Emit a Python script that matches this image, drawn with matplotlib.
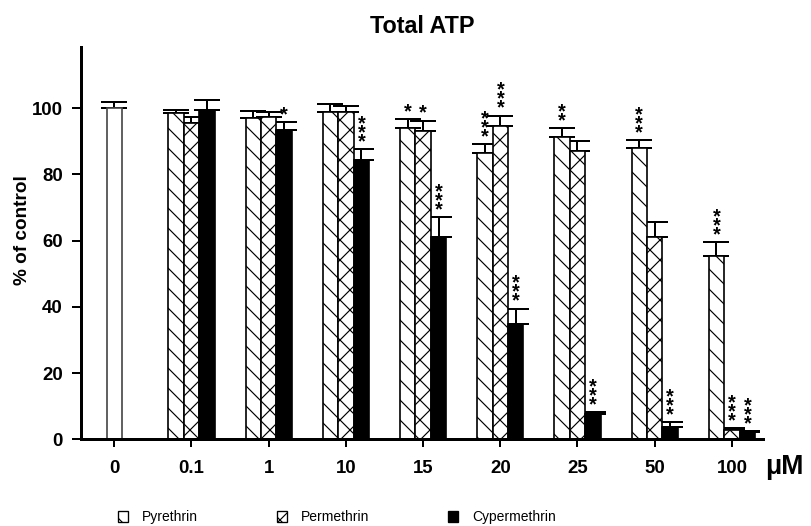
import numpy as np
import matplotlib
matplotlib.use('Agg')
import matplotlib.pyplot as plt
from matplotlib.patches import Patch

plt.rcParams['font.family'] = ['Liberation Sans', 'DejaVu Sans']
plt.rcParams['hatch.linewidth'] = 0.7

labels = ['0', '0.1', '1', '10', '15', '20', '25', '50', '100']
control = 100.0
control_err = 2.0

pyr = [98.5, 97.0, 98.8, 94.1, 86.4, 91.4, 87.9, 55.5]
pyr_err = [0.9, 2.1, 2.5, 2.7, 2.9, 2.7, 2.5, 4.2]
perm = [95.7, 97.5, 99.0, 93.1, 94.7, 87.1, 61.1, 2.8]
perm_err = [1.6, 1.5, 1.7, 3.2, 3.1, 3.1, 4.6, 0.5]
cyp = [99.5, 93.4, 84.4, 61.2, 34.7, 7.6, 3.8, 2.1]
cyp_err = [2.9, 2.5, 3.2, 5.9, 4.8, 0.7, 1.3, 0.3]

pyr_stars = [0, 0, 0, 1, 3, 2, 3, 3]
perm_stars = [0, 0, 0, 1, 3, 0, 0, 3]
cyp_stars = [0, 1, 3, 3, 3, 3, 3, 3]

dpi = 120
fig = plt.figure(figsize=(811 / dpi, 526 / dpi), dpi=dpi)
ax = fig.add_axes([81 / 811, 1 - 439.3 / 526, (763 - 81) / 811, (439.3 - 46.7) / 526])

w = 0.2
groups = np.arange(1, len(labels))

ax.bar(0, control, width=w, color='white', edgecolor='#444444', linewidth=1.0, zorder=2)
ax.errorbar(0, control, yerr=[[0], [control_err]], fmt='none', ecolor='black',
            elinewidth=1.2, capsize=7.8, capthick=1.2, zorder=1)

series = [
    (pyr, pyr_err, pyr_stars, -w, dict(color='white', hatch='\\\\')),
    (perm, perm_err, perm_stars, 0, dict(color='white', hatch='xx')),
    (cyp, cyp_err, cyp_stars, w, dict(color='black')),
]

for vals, errs, stars, off, style in series:
    xs = groups + off
    ax.bar(xs, vals, width=w, edgecolor='black', linewidth=1.0, zorder=2, **style)
    ax.errorbar(xs, vals, yerr=[np.zeros(len(vals)), errs], fmt='none', ecolor='black',
                elinewidth=1.2, capsize=7.8, capthick=1.2, zorder=1)
    # stacked significance stars above each error bar
    for x, v, e, n in zip(xs, vals, errs, stars):
        for k in range(n):
            ax.annotate('*', xy=(x, v + e), xytext=(0, 1.0 + 5.4 * k),
                        textcoords='offset points', ha='center', va='baseline',
                        fontsize=12, fontweight='bold')

ax.set_xlim(-0.431, 8.403)
ax.set_ylim(0, 118.6)
ax.set_yticks([0, 20, 40, 60, 80, 100])
ax.set_xticks(range(len(labels)))
ax.set_xticklabels(labels)

for s in ['top', 'right']:
    ax.spines[s].set_visible(False)
for s in ['left', 'bottom']:
    ax.spines[s].set_linewidth(1.8)
ax.tick_params(axis='y', width=1.2, length=5.4, pad=5.4, labelsize=11.2)
ax.tick_params(axis='x', width=1.2, length=4.8, pad=7.5, labelsize=11.2)
for t in ax.get_xticklabels() + ax.get_yticklabels():
    t.set_fontweight('bold')

ax.set_title('Total ATP', fontsize=14, fontweight='bold', pad=8)
fig.text(23 / 811, 1 - 230 / 526, '% of control', rotation=90, ha='center', va='center',
         fontsize=11.4, fontweight='bold')
fig.text(784 / 811, 1 - 467 / 526, 'μM', ha='center', va='center',
         fontsize=16, fontweight='bold')

handles = [Patch(facecolor='white', edgecolor='black', hatch='\\\\', linewidth=0.8),
           Patch(facecolor='white', edgecolor='black', hatch='xx', linewidth=0.8),
           Patch(facecolor='black', edgecolor='black', linewidth=0.8)]
fig.legend(handles, ['Pyrethrin', 'Permethrin', 'Cypermethrin'], ncol=3,
           loc='center left', bbox_to_anchor=(118 / 811, 1 - 517 / 526),
           frameon=False, fontsize=8.3, handlelength=0.73, handleheight=0.87,
           handletextpad=1.0, columnspacing=5.7, borderpad=0, borderaxespad=0)

fig.savefig('out.png', dpi=dpi)
